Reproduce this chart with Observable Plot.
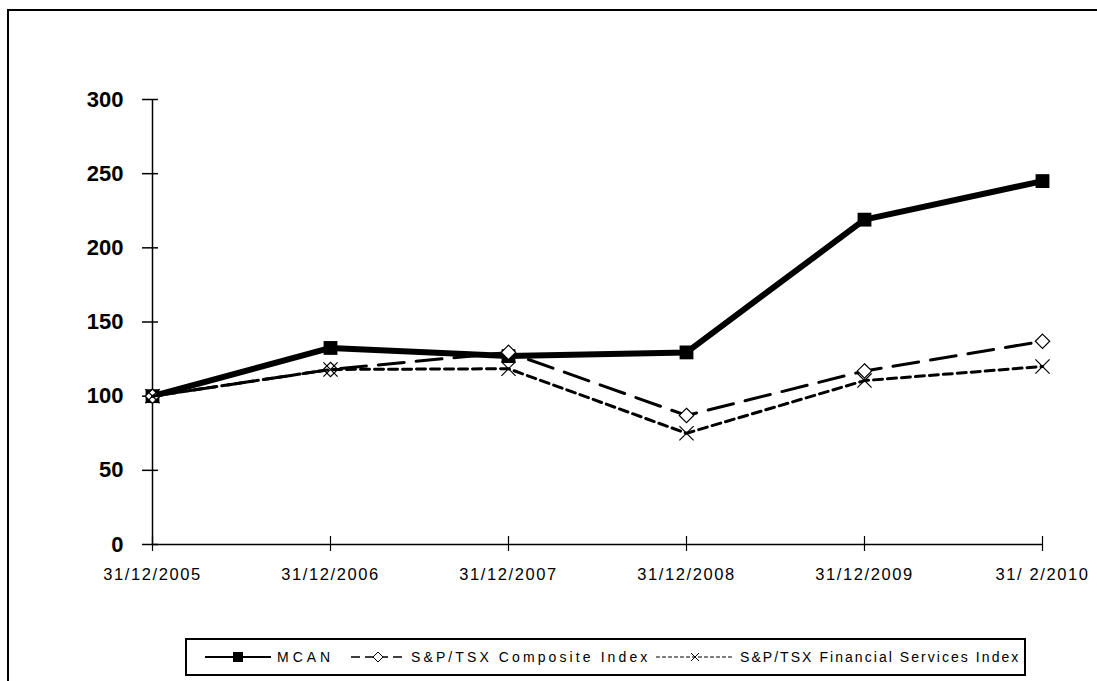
<!DOCTYPE html>
<html>
<head>
<meta charset="utf-8">
<script src="https://cdn.jsdelivr.net/npm/d3@7"></script>
<script src="https://cdn.jsdelivr.net/npm/@observablehq/plot@0.6"></script>
<style>
  html, body { margin: 0; padding: 0; background: #fff; }
  body { width: 1097px; height: 681px; position: relative; overflow: hidden; font-family: "Liberation Sans", Arial, sans-serif; }
  #frame { position: absolute; left: 7px; top: 9px; width: 1200px; height: 800px; border-left: 2px solid #000; border-top: 2px solid #000; }
  #chart { position: absolute; left: 0; top: 0; }
  #chart g[aria-label="x-axis tick label"] text { letter-spacing: 1.6px; }
  #legend { position: absolute; left: 185px; top: 638px; width: 841px; height: 38px; border: 2px solid #000; box-sizing: border-box; background: #fff; }
  .item { position: absolute; top: 0; height: 34px; display: flex; align-items: center; font-size: 14px; color: #000; white-space: nowrap; }
  .item svg { margin-right: 6px; }
</style>
</head>
<body>
<div id="frame"></div>
<div id="chart"></div>
<div id="legend"></div>
<script>
const dates = ["31/12/2005", "31/12/2006", "31/12/2007", "31/12/2008", "31/12/2009", "31/12/2010"];
const tickLabels = ["31/12/2005", "31/12/2006", "31/12/2007", "31/12/2008", "31/12/2009", "31/ 2/2010"];
const yTicks = [0, 50, 100, 150, 200, 250, 300];
const seriesNames = ["MCAN", "S&P/TSX Composite Index", "S&P/TSX Financial Services Index"];
const mcan = [100, 132.5, 127, 129.5, 219, 245];
const composite = [100, 118, 129.5, 87, 117, 137];
const financial = [100, 118, 118.5, 75, 110.5, 120];

const rows = (vals, name) => vals.map((v, i) => ({date: dates[i], value: v, series: name}));
const dM = rows(mcan, seriesNames[0]);
const dC = rows(composite, seriesNames[1]);
const dF = rows(financial, seriesNames[2]);
const labelOf = new Map(dates.map((d, i) => [d, tickLabels[i]]));

const plot = Plot.plot({
  width: 1097,
  height: 620,
  marginLeft: 150,
  marginRight: 53,
  marginTop: 99,
  marginBottom: 76,
  style: {fontFamily: "'Liberation Sans', Arial, sans-serif", background: "transparent", color: "#000"},
  x: {type: "point", domain: dates, padding: 0},
  y: {domain: [0, 300]},
  marks: [
    Plot.ruleY([0], {x1: () => dates[0], x2: () => dates[dates.length - 1], stroke: "#000", strokeWidth: 1.5}),
    Plot.ruleX([dates[0]], {y1: 0, y2: 300, stroke: "#000", strokeWidth: 1.5}),
    Plot.axisY({ticks: yTicks, tickSize: 16, dx: 8, text: null, stroke: "#000", strokeWidth: 1.5, label: null}),
    Plot.axisY({ticks: yTicks, tickSize: 0, tickPadding: 27, fontSize: 22, fontWeight: "bold", label: null}),
    Plot.axisX({ticks: dates, tickSize: 15, dy: -8, text: null, stroke: "#000", strokeWidth: 1.2, label: null}),
    Plot.axisX({ticks: dates, tickSize: 0, tickPadding: 24, fontSize: 16.5, tickFormat: d => labelOf.get(d), label: null}),
    Plot.line(dM, {x: "date", y: "value", stroke: "#000", strokeWidth: 6, strokeLinejoin: "round"}),
    Plot.dot(dM, {x: "date", y: "value", symbol: "square", r: 7.8, fill: "#000"}),
    Plot.line(dC, {x: "date", y: "value", stroke: "#000", strokeWidth: 3, strokeDasharray: "26,12"}),
    Plot.dot(dC, {x: "date", y: "value", symbol: "diamond2", r: 6.5, fill: "#fff", stroke: "#000", strokeWidth: 1.2}),
    Plot.line(dF, {x: "date", y: "value", stroke: "#000", strokeWidth: 3, strokeDasharray: "9,5"}),
    Plot.dot(dF, {x: "date", y: "value", symbol: "times", r: 6.5, stroke: "#000", strokeWidth: 1.2})
  ]
});
document.getElementById("chart").appendChild(plot);

// Legend (HTML, below the SVG)
const legend = document.getElementById("legend");
const swatches = [
  {left: 18, w: 66, dash: null, sw: 2, sym: "sq", ls: 4},
  {left: 164, w: 54, dash: "9,5", sw: 1.5, sym: "dia", ls: 3.1},
  {left: 469, w: 78, dash: "4,2", sw: 1.2, sym: "x", ls: 2.05}
];
seriesNames.forEach((name, i) => {
  const s = swatches[i];
  const item = document.createElement("div");
  item.className = "item";
  item.style.left = s.left + "px";
  item.style.letterSpacing = s.ls + "px";
  const cx = s.w / 2, cy = 10;
  let sym = "";
  if (s.sym === "sq") sym = `<rect x="${cx-5}" y="${cy-5}" width="10" height="10" fill="#000"/>`;
  if (s.sym === "dia") sym = `<path d="M${cx} ${cy-5}L${cx+5} ${cy}L${cx} ${cy+5}L${cx-5} ${cy}Z" fill="#fff" stroke="#000" stroke-width="1"/>`;
  if (s.sym === "x") sym = `<path d="M${cx-4} ${cy-4}L${cx+4} ${cy+4}M${cx+4} ${cy-4}L${cx-4} ${cy+4}" stroke="#000" stroke-width="1"/>`;
  item.innerHTML = `<svg width="${s.w}" height="20"><line x1="0" y1="${cy}" x2="${s.w}" y2="${cy}" stroke="#000" stroke-width="${s.sw}" ${s.dash ? `stroke-dasharray="${s.dash}"` : ""}/>${sym}</svg><span>${name.replace(/&/g, "&amp;")}</span>`;
  legend.appendChild(item);
});
</script>
</body>
</html>
